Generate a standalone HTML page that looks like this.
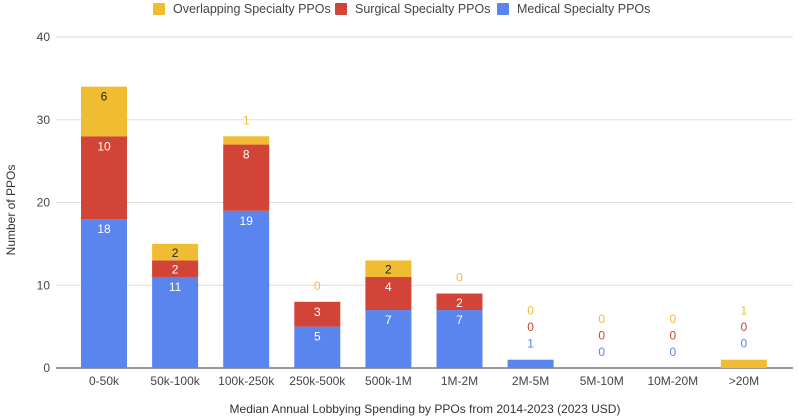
<!DOCTYPE html>
<html><head><meta charset="utf-8"><style>
body{margin:0;background:#fff;}
svg{font-family:"Liberation Sans",Arial,sans-serif;display:block}
</style></head><body>
<svg id="c" width="797" height="417"></svg>
<script>
const categories=["0-50k","50k-100k","100k-250k","250k-500k","500k-1M","1M-2M","2M-5M","5M-10M","10M-20M",">20M"];
const medical=[18,11,19,5,7,7,1,0,0,0];
const surgical=[10,2,8,3,4,2,0,0,0,0];
const overlapping=[6,2,1,0,2,0,0,0,0,1];
const yTicks=[0,10,20,30,40];
const seriesNames=["Overlapping Specialty PPOs","Surgical Specialty PPOs","Medical Specialty PPOs"];

const colors={med:"#5a85ef",sur:"#d24437",ovl:"#f0bd32"};
const svg=document.getElementById('c');
const NS="http://www.w3.org/2000/svg";
function mk(t,a,txt){const e=document.createElementNS(NS,t);for(const k in a)e.setAttribute(k,a[k]);if(txt!==undefined)e.textContent=txt;svg.appendChild(e);return e;}
const y=v=>368-v*8.275;
const x=i=>104+i*71.1;
const bw=46;

yTicks.forEach(t=>{
  const l=mk('line',{x1:56,x2:793,y1:y(t),y2:y(t),stroke:t===0?'#333':'#ddd','stroke-width':1});
  
  
  const tx=mk('text',{x:50,y:y(t)+4,'text-anchor':'end','font-size':12,fill:'#444'},t);
  
  
});

categories.forEach((c,i)=>{
  const segs=[[medical[i],colors.med,'medical'],[surgical[i],colors.sur,'surgical'],[overlapping[i],colors.ovl,'overlapping']];
  let base=0;const outside=[];
  segs.forEach(([v,col,n])=>{
    const top=y(base+v),bot=y(base);
    if(v>0){
      const r=mk('rect',{x:x(i)-bw/2,y:top,width:bw,height:bot-top,fill:col});
      
      
    }
    if(bot-top>=14){
      const t=mk('text',{x:x(i),y:top+Math.min(14,(bot-top)/2+5),'text-anchor':'middle','font-size':12,fill:n==='overlapping'?'#222':'#fff'},v);
      
      
    } else outside.push([v,col,n]);
    base+=v;
  });
  const topAll=y(base);
  outside.forEach(([v,col,n],k)=>{
    const t=mk('text',{x:x(i),y:topAll-12-k*16.5,'text-anchor':'middle','font-size':12,fill:col},v);
    
    
  });
  const xl=mk('text',{x:x(i),y:385,'text-anchor':'middle','font-size':12,fill:'#444'},c);
  
  
});

const xt=mk('text',{x:425,y:413,'text-anchor':'middle','font-size':12,fill:'#333'},'Median Annual Lobbying Spending by PPOs from 2014-2023 (2023 USD)');


const yt=mk('text',{x:0,y:0,'text-anchor':'middle','font-size':12,fill:'#333',transform:'translate(15,210) rotate(-90)'},'Number of PPOs');



const legX=[153,335,497];const legC=[colors.ovl,colors.sur,colors.med];
seriesNames.forEach((s,k)=>{
  const r=mk('rect',{x:legX[k],y:3,width:12,height:12,rx:1,fill:legC[k]});
  
  
  const t=mk('text',{x:legX[k]+20,y:13,'font-size':12.5,fill:'#444'},s);
  
  
});
</script>
</body></html>
